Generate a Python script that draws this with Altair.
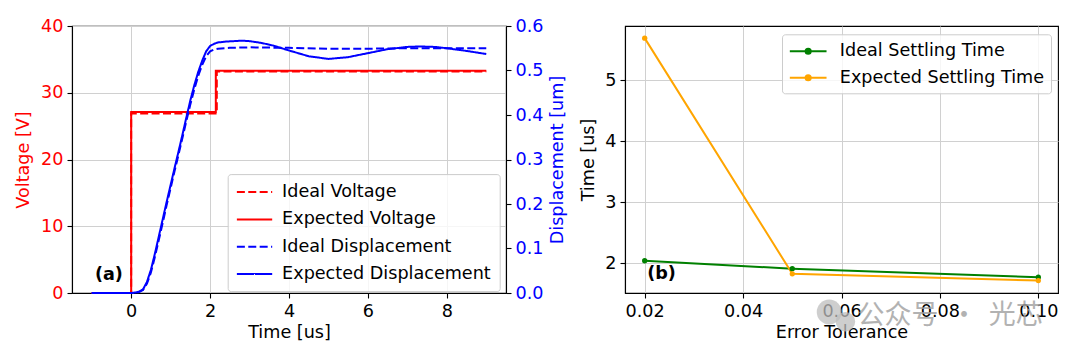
import altair as alt
import pandas as pd

FONT = "DejaVu Sans"
FS = 17.6

# ---------------- Panel (a) data ----------------
series_a = ["Ideal Voltage", "Expected Voltage", "Ideal Displacement", "Expected Displacement"]

t_volt_ideal = [-1.0, 0.0, 2.17, 9.0]
v_volt_ideal = [0.0, 26.9, 33.2, 33.2]
t_volt_exp = [-1.0, 0.0, 2.145, 9.0]
v_volt_exp = [0.0, 27.1, 33.3, 33.3]

t_disp_ideal = [-1.0, 0.0, 0.1, 0.2, 0.3, 0.4, 0.5, 0.6, 0.7, 0.8, 0.9, 1.0, 1.1, 1.2, 1.3,
                1.4, 1.5, 1.6, 1.7, 1.8, 1.9, 2.0, 2.1, 2.2, 2.5, 3.0, 4.0, 5.0, 6.0, 7.0, 8.0, 9.0]
d_disp_ideal = [0.0, 0.0, 0.0, 0.002, 0.007, 0.021, 0.046, 0.081, 0.119, 0.158, 0.198, 0.236,
                0.274, 0.311, 0.349, 0.387, 0.424, 0.458, 0.488, 0.513, 0.532, 0.543, 0.547,
                0.549, 0.551, 0.552, 0.551, 0.549, 0.549, 0.550, 0.550, 0.550]

t_disp_exp = [-1.0, 0.0, 0.1, 0.2, 0.3, 0.4, 0.5, 0.6, 0.7, 0.8, 0.9, 1.0, 1.1, 1.2, 1.3, 1.4,
              1.5, 1.6, 1.7, 1.8, 1.9, 2.0, 2.1, 2.2, 2.4, 2.6, 2.8, 3.0, 3.3, 3.6, 4.0, 4.5,
              5.0, 5.5, 6.0, 6.5, 7.0, 7.3, 7.7, 8.0, 8.5, 9.0]
d_disp_exp = [0.0, 0.0, 0.001, 0.003, 0.008, 0.025, 0.052, 0.088, 0.127, 0.166, 0.205, 0.243,
              0.281, 0.318, 0.356, 0.395, 0.433, 0.467, 0.497, 0.522, 0.543, 0.555, 0.560,
              0.563, 0.565, 0.566, 0.567, 0.566, 0.562, 0.556, 0.545, 0.532, 0.526, 0.530,
              0.539, 0.548, 0.553, 0.554, 0.553, 0.550, 0.544, 0.537]

# ---------------- Panel (b) data ----------------
series_b = ["Ideal Settling Time", "Expected Settling Time"]
tolerance = [0.02, 0.05, 0.10]
settle_ideal = [2.04, 1.91, 1.77]
settle_exp = [5.69, 1.825, 1.715]

# watermark text pieces (placed in panel (b) data coordinates, below the axis)
wm_text = ["公众号", "·", "光芯"]
wm_x = [0.0715, 0.0849, 0.0954]
wm_y = [1.136, 1.136, 1.136]
wm_icon_x = [0.0575, 0.0608]
wm_icon_y = [1.20, 1.04]
wm_icon_size = [620, 380]

# ---------------- tables ----------------
volt_df = pd.concat([
    pd.DataFrame({"t": t_volt_ideal, "v": v_volt_ideal, "series": series_a[0]}),
    pd.DataFrame({"t": t_volt_exp, "v": v_volt_exp, "series": series_a[1]}),
])
disp_df = pd.concat([
    pd.DataFrame({"t": t_disp_ideal, "d": d_disp_ideal, "series": series_a[2]}),
    pd.DataFrame({"t": t_disp_exp, "d": d_disp_exp, "series": series_a[3]}),
])
sett_df = pd.concat([
    pd.DataFrame({"tol": tolerance, "time": settle_ideal, "curve": series_b[0]}),
    pd.DataFrame({"tol": tolerance, "time": settle_exp, "curve": series_b[1]}),
])

RED = "#ff0000"
BLUE = "#0000ff"
DASH = [8, 3.4]
SOLID = [1, 0]

legend_a = alt.Legend(
    title=None, orient="none", legendX=155.7, legendY=148.1,
    symbolType="M-1,0H3", symbolSize=312, symbolStrokeWidth=2,
    labelOffset=26.4, padding=8, rowPadding=8.3, labelLimit=0,
    fillColor="rgba(255,255,255,0.8)", strokeColor="#cccccc", cornerRadius=3,
    labelFontSize=FS, labelFont=FONT, labelColor="#000000",
)

color_a = alt.Color("series:N", scale=alt.Scale(domain=series_a, range=[RED, RED, BLUE, BLUE]),
                    legend=legend_a)
dash_a = alt.StrokeDash("series:N", scale=alt.Scale(domain=series_a, range=[DASH, SOLID, DASH, SOLID]),
                        legend=legend_a)

x_a = alt.X("t:Q", scale=alt.Scale(domain=[-1.5, 9.5], nice=False, zero=False),
            axis=alt.Axis(values=[0, 2, 4, 6, 8], title="Time [us]", grid=True, titlePadding=4))

volt = alt.Chart(volt_df).mark_line(interpolate="step-after", strokeWidth=2).encode(
    x=x_a,
    y=alt.Y("v:Q", scale=alt.Scale(domain=[0, 40], nice=False),
            axis=alt.Axis(orient="left", values=[0, 10, 20, 30, 40], title="Voltage [V]",
                          titleColor=RED, labelColor=RED, grid=True, titlePadding=8)),
    color=color_a,
    strokeDash=dash_a,
)

disp = alt.Chart(disp_df).mark_line(strokeWidth=2).encode(
    x=x_a,
    y=alt.Y("d:Q", scale=alt.Scale(domain=[0, 0.6], nice=False),
            axis=alt.Axis(orient="right", values=[0, 0.1, 0.2, 0.3, 0.4, 0.5, 0.6], format=".1f",
                          title="Displacement [um]", titleColor=BLUE, labelColor=BLUE,
                          grid=False, titleAngle=270, titleBaseline="top", titlePadding=6)),
    color=color_a,
    strokeDash=dash_a,
)

label_a = alt.Chart(pd.DataFrame({"t": [-0.92], "v": [2.73], "label": ["(a)"]})).mark_text(
    align="left", baseline="middle", fontWeight="bold", fontSize=FS, font=FONT, color="#000000"
).encode(
    x="t:Q",
    y=alt.Y("v:Q", scale=alt.Scale(domain=[0, 40], nice=False), axis=None),
    text="label:N",
)

left = alt.layer(volt, disp, label_a).resolve_scale(y="independent").properties(width=434, height=267)

# ---------------- Panel (b) ----------------
legend_b = alt.Legend(
    title=None, orient="none", legendX=157, legendY=8.3,
    symbolType="M-1,0H3M1.28,0A0.28,0.28,0,1,1,0.72,0A0.28,0.28,0,1,1,1.28,0",
    symbolSize=337, symbolStrokeWidth=2,
    labelOffset=30.3, padding=6.5, rowPadding=6.4, labelLimit=0,
    fillColor="rgba(255,255,255,0.8)", strokeColor="#cccccc", cornerRadius=3,
    labelFontSize=FS, labelFont=FONT, labelColor="#000000",
)

x_b = alt.X("tol:Q", scale=alt.Scale(domain=[0.016, 0.104], nice=False, zero=False),
            axis=alt.Axis(values=[0.02, 0.04, 0.06, 0.08, 0.10], format=".2f",
                          title="Error Tolerance", grid=True, titlePadding=4))
y_b = alt.Y("time:Q", scale=alt.Scale(domain=[1.511, 5.889], nice=False, zero=False),
            axis=alt.Axis(values=[2, 3, 4, 5], format="d", title="Time [us]", grid=True,
                          titlePadding=7))

lines_b = alt.Chart(sett_df).mark_line(strokeWidth=2, point=alt.OverlayMarkDef(filled=True, size=28)).encode(
    x=x_b,
    y=y_b,
    color=alt.Color("curve:N", scale=alt.Scale(domain=series_b, range=["#008000", "#ffa500"]),
                    legend=legend_b),
)

label_b = alt.Chart(pd.DataFrame({"tol": [0.0205], "time": [1.82], "label": ["(b)"]})).mark_text(
    align="left", baseline="middle", fontWeight="bold", fontSize=FS, font=FONT, color="#000000"
).encode(x="tol:Q", y="time:Q", text="label:N")

wm_icon = alt.Chart(pd.DataFrame({"tol": wm_icon_x, "time": wm_icon_y, "s": wm_icon_size})).mark_circle(
    color="#bdbdbd", opacity=0.75, clip=False
).encode(x="tol:Q", y="time:Q", size=alt.Size("s:Q", scale=None, legend=None))

wm = alt.Chart(pd.DataFrame({"tol": wm_x, "time": wm_y, "label": wm_text})).mark_text(
    align="center", baseline="middle", fontSize=27, font="Noto Sans CJK SC", color="#a0a0a0",
    opacity=0.8
).encode(x="tol:Q", y="time:Q", text="label:N")

right = alt.layer(lines_b, label_b, wm_icon, wm).properties(width=433, height=267)

chart = alt.hconcat(left, right, spacing=119, bounds="flush",
                    padding={"left": 6, "top": 8, "right": 5, "bottom": 5}).resolve_scale(
    color="independent", strokeDash="independent", size="independent"
).configure_view(
    stroke="#000000", strokeWidth=1.1
).configure_axis(
    labelFont=FONT, titleFont=FONT, labelFontSize=FS, titleFontSize=FS,
    titleFontWeight="normal", labelColor="#000000", titleColor="#000000",
    tickColor="#000000", domainColor="#000000", tickSize=5, tickWidth=1.1, domainWidth=1.1,
    labelPadding=4, gridColor="#d0d0d0", gridWidth=1,
)

chart.save("out.html", embed_options={"renderer": "svg", "actions": False})
